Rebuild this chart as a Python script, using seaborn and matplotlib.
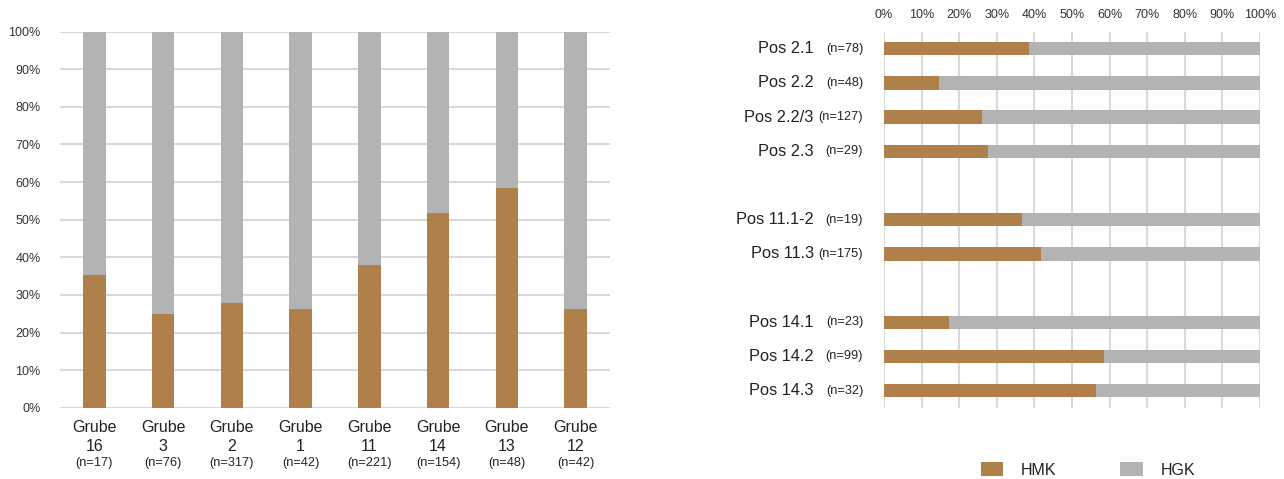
import matplotlib
matplotlib.use("Agg")
import matplotlib.pyplot as plt
from matplotlib.patches import Patch
import pandas as pd
import seaborn as sns

# Pits (Gruben): share of HMK vs HGK in percent
grube_names = ["16", "3", "2", "1", "11", "14", "13", "12"]
grube_n = [17, 76, 317, 42, 221, 154, 48, 42]
grube_hmk = [35.3, 25.0, 27.8, 26.2, 38.0, 51.9, 58.3, 26.2]
grube_hgk = [64.7, 75.0, 72.2, 73.8, 62.0, 48.1, 41.7, 73.8]

# Positions within the pits
pos_names = ["Pos 2.1", "Pos 2.2", "Pos 2.2/3", "Pos 2.3",
             "Pos 11.1-2", "Pos 11.3",
             "Pos 14.1", "Pos 14.2", "Pos 14.3"]
pos_n = [78, 48, 127, 29, 19, 175, 23, 99, 32]
pos_hmk = [38.5, 14.6, 26.0, 27.6, 36.8, 41.7, 17.4, 58.6, 56.3]
pos_hgk = [61.5, 85.4, 74.0, 72.4, 63.2, 58.3, 82.6, 41.4, 43.7]

# Row order with empty slots separating the pit groups
pos_order = ["Pos 2.1", "Pos 2.2", "Pos 2.2/3", "Pos 2.3", " ",
             "Pos 11.1-2", "Pos 11.3", "  ",
             "Pos 14.1", "Pos 14.2", "Pos 14.3"]

pct_ticks = list(range(0, 101, 10))

HMK_COLOR = "#B0804A"
HGK_COLOR = "#B3B3B3"
GRID_COLOR = "#D9D9D9"
TEXT_COLOR = "#222222"
TICK_COLOR = "#333333"

sns.set_theme(style="white")
plt.rcParams["font.family"] = ["Liberation Sans", "DejaVu Sans"]

fig = plt.figure(figsize=(12.84, 4.79), dpi=100)
ax_l = fig.add_axes([60 / 1284, 1 - 407.7 / 479, 550 / 1284, 376 / 479])
ax_r = fig.add_axes([884 / 1284, 1 - 407.7 / 479, 376 / 1284, 376 / 479])

bar_kw = dict(saturation=1, linewidth=0, edgecolor="none")

# ---- left: vertical stacked bars per pit ----
df_g = pd.DataFrame({"grube": grube_names, "hmk": grube_hmk, "hgk": grube_hgk})
df_g["total"] = df_g["hmk"] + df_g["hgk"]
sns.barplot(data=df_g, x="grube", y="total", order=grube_names, color=HGK_COLOR,
            width=0.33, ax=ax_l, zorder=2, **bar_kw)
sns.barplot(data=df_g, x="grube", y="hmk", order=grube_names, color=HMK_COLOR,
            width=0.33, ax=ax_l, zorder=3, **bar_kw)
ax_l.set_ylim(0, 100)
ax_l.set_xlim(-0.5, len(grube_names) - 0.5)
ax_l.set_yticks(pct_ticks)
ax_l.set_yticklabels([f"{t}%" for t in pct_ticks])
ax_l.tick_params(axis="y", length=0, pad=14, labelsize=9, labelcolor=TICK_COLOR)
ax_l.tick_params(axis="x", length=0, labelbottom=False)
ax_l.yaxis.grid(True, color=GRID_COLOR, linewidth=1.5)
ax_l.set_axisbelow(True)
ax_l.set_xlabel("")
ax_l.set_ylabel("")
for s in ax_l.spines.values():
    s.set_visible(False)

for i, (name, n) in enumerate(zip(grube_names, grube_n)):
    ax_l.annotate("Grube", xy=(i, 0), xycoords=("data", "axes fraction"),
                  xytext=(0, -14.2), textcoords="offset points",
                  ha="center", va="center", fontsize=11.5, color=TEXT_COLOR)
    ax_l.annotate(name, xy=(i, 0), xycoords=("data", "axes fraction"),
                  xytext=(0, -27.9), textcoords="offset points",
                  ha="center", va="center", fontsize=11.5, color=TEXT_COLOR)
    ax_l.annotate(f"(n={n})", xy=(i, 0), xycoords=("data", "axes fraction"),
                  xytext=(0, -40.0), textcoords="offset points",
                  ha="center", va="center", fontsize=9.2, color=TEXT_COLOR)

# ---- right: horizontal stacked bars per position ----
df_p = pd.DataFrame({"pos": pos_names, "hmk": pos_hmk, "hgk": pos_hgk})
df_p["total"] = df_p["hmk"] + df_p["hgk"]
sns.barplot(data=df_p, y="pos", x="total", order=pos_order, orient="h",
            color=HGK_COLOR, width=0.39, ax=ax_r, zorder=2, **bar_kw)
sns.barplot(data=df_p, y="pos", x="hmk", order=pos_order, orient="h",
            color=HMK_COLOR, width=0.39, ax=ax_r, zorder=3, **bar_kw)
ax_r.set_xlim(0, 100)
ax_r.set_ylim(len(pos_order) - 0.5, -0.5)
ax_r.set_xticks(pct_ticks)
ax_r.set_xticklabels([f"{t}%" for t in pct_ticks])
ax_r.tick_params(axis="x", length=0, pad=8, labelsize=9, labelcolor=TICK_COLOR,
                 labeltop=True, labelbottom=False, top=False, bottom=False)
ax_r.tick_params(axis="y", length=0, labelleft=False)
ax_r.xaxis.grid(True, color=GRID_COLOR, linewidth=1.5)
ax_r.set_axisbelow(True)
ax_r.set_xlabel("")
ax_r.set_ylabel("")
for s in ax_r.spines.values():
    s.set_visible(False)

for name, n in zip(pos_names, pos_n):
    yi = pos_order.index(name)
    ax_r.annotate(name, xy=(0, yi), xycoords=("axes fraction", "data"),
                  xytext=(-50.5, 0), textcoords="offset points",
                  ha="right", va="center", fontsize=11.8, color=TEXT_COLOR)
    ax_r.annotate(f"(n={n})", xy=(0, yi), xycoords=("axes fraction", "data"),
                  xytext=(-15, 0), textcoords="offset points",
                  ha="right", va="center", fontsize=9.2, color=TEXT_COLOR)

# ---- legend ----
handles = [Patch(facecolor=HMK_COLOR, edgecolor="none", label="HMK"),
           Patch(facecolor=HGK_COLOR, edgecolor="none", label="HGK")]
fig.legend(handles=handles, loc="center", bbox_to_anchor=(1088 / 1284, 1 - 470 / 479),
           ncol=2, frameon=False, fontsize=11.5, handlelength=1.4, handleheight=0.9,
           handletextpad=1.1, columnspacing=4.0, labelcolor=TEXT_COLOR)

fig.savefig("out.png", dpi=100)
